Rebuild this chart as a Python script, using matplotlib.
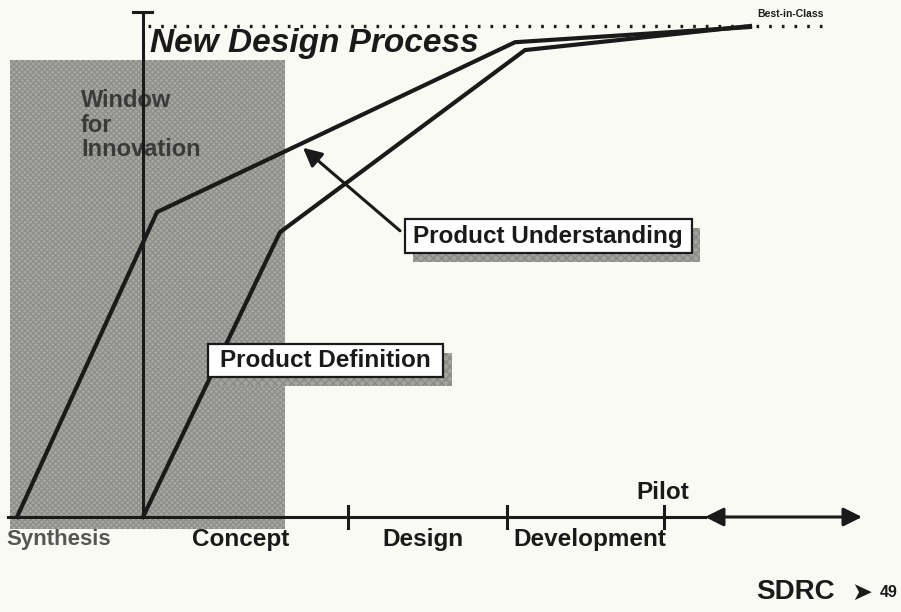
import matplotlib.pyplot as plt
from matplotlib.patches import Rectangle

# x: time along the process (origin = start of Concept), y: understanding (%)
understanding_x = [-1.26, 0.14, 3.72, 6.07]
understanding_y = [0.0, 62.1, 96.7, 99.8]
definition_x = [0.0, 1.37, 3.82, 6.07]
definition_y = [0.0, 58.0, 95.1, 100.0]

best_in_class = 100.0
stage_ticks = [2.05, 3.64, 5.21]
stage_names = ["Synthesis", "Concept", "Design", "Development"]
stage_label_x = [-0.84, 0.98, 2.80, 4.47]

window_x = [-1.33, 1.42]
window_y = [-2.4, 93.1]

ink = "#1a1a1a"
bg = "#fafaf4"
plt.rcParams["font.family"] = ["Liberation Sans", "DejaVu Sans"]

fig = plt.figure(figsize=(9.01, 6.12), dpi=100, facecolor=bg)
ax = fig.add_axes([0, 0, 1, 1], facecolor=bg)
ax.set_xlim(-1.43, 7.58)
ax.set_ylim(-19.35, 105.3)
ax.axis("off")

# window for innovation (halftone grey block)
ax.add_patch(Rectangle((window_x[0], window_y[0]), window_x[1] - window_x[0],
                       window_y[1] - window_y[0], facecolor="#a8a8a5",
                       edgecolor="#8e8e8b", hatch="xxxxxx", linewidth=0, zorder=1))
ax.text(-0.62, 87.2, "Window\nfor\nInnovation", fontsize=17, fontweight="bold",
        color="#3a3a3a", va="top", ha="left", linespacing=1.1, zorder=2)

# axes
ax.plot([-1.35, 5.62], [0, 0], color=ink, lw=2.2, zorder=3)
ax.plot([0, 0], [0, 102.9], color=ink, lw=2.2, zorder=3)
ax.plot([-0.1, 0.09], [102.9, 102.9], color=ink, lw=2.2, zorder=3)
for t in stage_ticks:
    ax.plot([t, t], [-2.2, 2.2], color=ink, lw=2.2, zorder=3)
ax.annotate("", xy=(7.19, 0), xytext=(5.62, 0),
            arrowprops=dict(arrowstyle="<|-|>", color=ink, lw=2.2,
                            mutation_scale=28, shrinkA=0, shrinkB=0), zorder=3)

for name, x in zip(stage_names, stage_label_x):
    synth = name == "Synthesis"
    ax.text(x, -4.6, name, fontsize=16 if synth else 17.5, fontweight="bold",
            color="#555555" if synth else ink, ha="center", va="center")
ax.text(5.2, 4.9, "Pilot", fontsize=17.5, fontweight="bold", color=ink,
        ha="center", va="center")

# best-in-class dotted level
ax.plot([0.05, 6.87], [best_in_class, best_in_class], color=ink, lw=2.4,
        dashes=(0.8, 3.0), zorder=3)
ax.text(6.47, 102.4, "Best-in-Class", fontsize=7.5, fontweight="bold",
        color=ink, ha="center", va="center")
ax.text(0.07, 96.4, "New Design Process", fontsize=24, fontweight="bold",
        fontstyle="italic", color=ink, ha="left", va="center")

# curves
ax.plot(understanding_x, understanding_y, color=ink, lw=3, zorder=4,
        solid_joinstyle="miter")
ax.plot(definition_x, definition_y, color=ink, lw=3, zorder=4,
        solid_joinstyle="miter")


def label_box(cx, cy, w, h, text):
    ax.add_patch(Rectangle((cx - w / 2 + 0.09, cy - h / 2 - 1.8), w, h,
                           facecolor="#a2a29f", edgecolor="#898986",
                           hatch="xxxx", lw=0, zorder=5))
    ax.add_patch(Rectangle((cx - w / 2, cy - h / 2), w, h, facecolor="white",
                           edgecolor=ink, lw=1.6, zorder=6))
    ax.text(cx, cy, text, fontsize=17.5, fontweight="bold", color=ink,
            ha="center", va="center", zorder=7)


label_box(4.05, 57.2, 2.87, 6.9, "Product Understanding")
label_box(1.82, 31.8, 2.35, 6.7, "Product Definition")

ax.annotate("", xy=(1.60, 75.2), xytext=(2.57, 58.3),
            arrowprops=dict(arrowstyle="-|>", color=ink, lw=2.2,
                            mutation_scale=28, shrinkA=0, shrinkB=0), zorder=8)

# footer
ax.text(6.52, -15.3, "SDRC", fontsize=20, fontweight="heavy", color=ink,
        ha="center", va="center", fontstretch="expanded")
ax.text(7.19, -15.4, "➤", fontsize=18, color=ink, ha="center", va="center",
        family=["DejaVu Sans"])
ax.text(7.46, -15.3, "49", fontsize=11.5, fontweight="bold", color=ink,
        ha="center", va="center")

fig.savefig("out.png", dpi=100, facecolor=bg)
